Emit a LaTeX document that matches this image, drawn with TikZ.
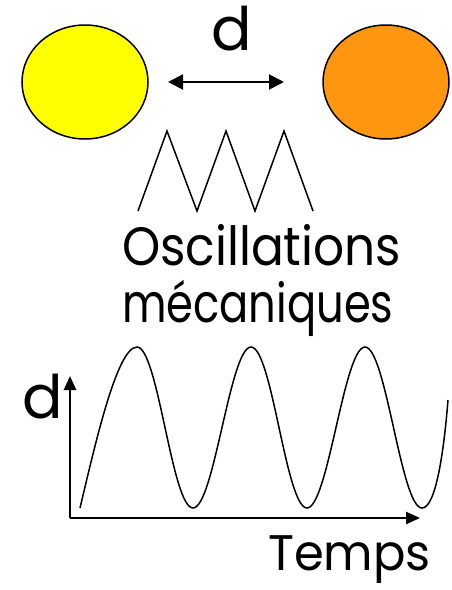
\documentclass[tikz,border=0pt]{standalone}
\usepackage{fontspec}
\setmainfont{Poppins}
\usetikzlibrary{arrows.meta,shapes.geometric}
\definecolor{ballyellow}{RGB}{255,255,0}
\definecolor{ballorange}{RGB}{255,150,16}
\begin{document}
\begin{tikzpicture}[x=1pt,y=-1pt,
  ball/.style={ellipse,draw=black,line width=1.5pt,minimum width=126pt,minimum height=114pt,inner sep=0pt},
  bigtext/.style={font=\fontsize{54}{54}\selectfont,inner sep=0pt},
  labtext/.style={font=\fontsize{60}{60}\selectfont,inner sep=0pt},
  midtext/.style={font=\fontsize{50}{50}\selectfont,inner sep=0pt},
  thin/.style={line width=1.5pt},
  axis/.style={line width=2.5pt,-{Triangle[length=14pt,width=12pt]}},
  darrow/.style={line width=2pt,{Triangle[length=15pt,width=15pt]}-{Triangle[length=15pt,width=15pt]}}]
\useasboundingbox (0,0) rectangle (452,590);
% balls
\node[ball,fill=ballyellow] (Y) at (85,82) {};
\node[ball,fill=ballorange] (O) at (386,82) {};
\coordinate (aL) at (168,82);
\coordinate (aR) at (284,82);
\draw[darrow] (aL) -- (aR);
\node[labtext,anchor=base] (dtop) at (232,50) {d};
% spring
\draw[thin,line join=miter] (138,211) -- (167,131) -- (197,211) -- (226,131) -- (255,211) -- (284,131) -- (313,211);
% title
\node[bigtext,anchor=base west] (t1) at (122,265) {\scalebox{0.9}[1]{Oscillations}};
\node[bigtext,anchor=base west] (t2) at (122,322) {\scalebox{0.8}[1]{mécaniques}};
% axes
\coordinate (orig) at (70,518);
\coordinate (ytop) at (70,376);
\coordinate (xend) at (420,518);
\draw[axis] (orig) -- (ytop);
\draw[axis] (orig) -- (xend);
\node[labtext,anchor=base east] (dax) at (63,418) {d};
\node[midtext,anchor=base west] (temps) at (268,570) {\scalebox{0.96}[1]{Temps}};
% curve
\draw[thin] (80,508) .. controls (95,445) and (117,347) .. (137,347)
  .. controls (158,347) and (172,508) .. (193,508)
  .. controls (214,508) and (230,347) .. (251,347)
  .. controls (272,347) and (286,508) .. (307,508)
  .. controls (328,508) and (344,347) .. (365,347)
  .. controls (386,347) and (401,508) .. (422,508)
  .. controls (436,508) and (444,450) .. (448,400);
\end{tikzpicture}
\end{document}
